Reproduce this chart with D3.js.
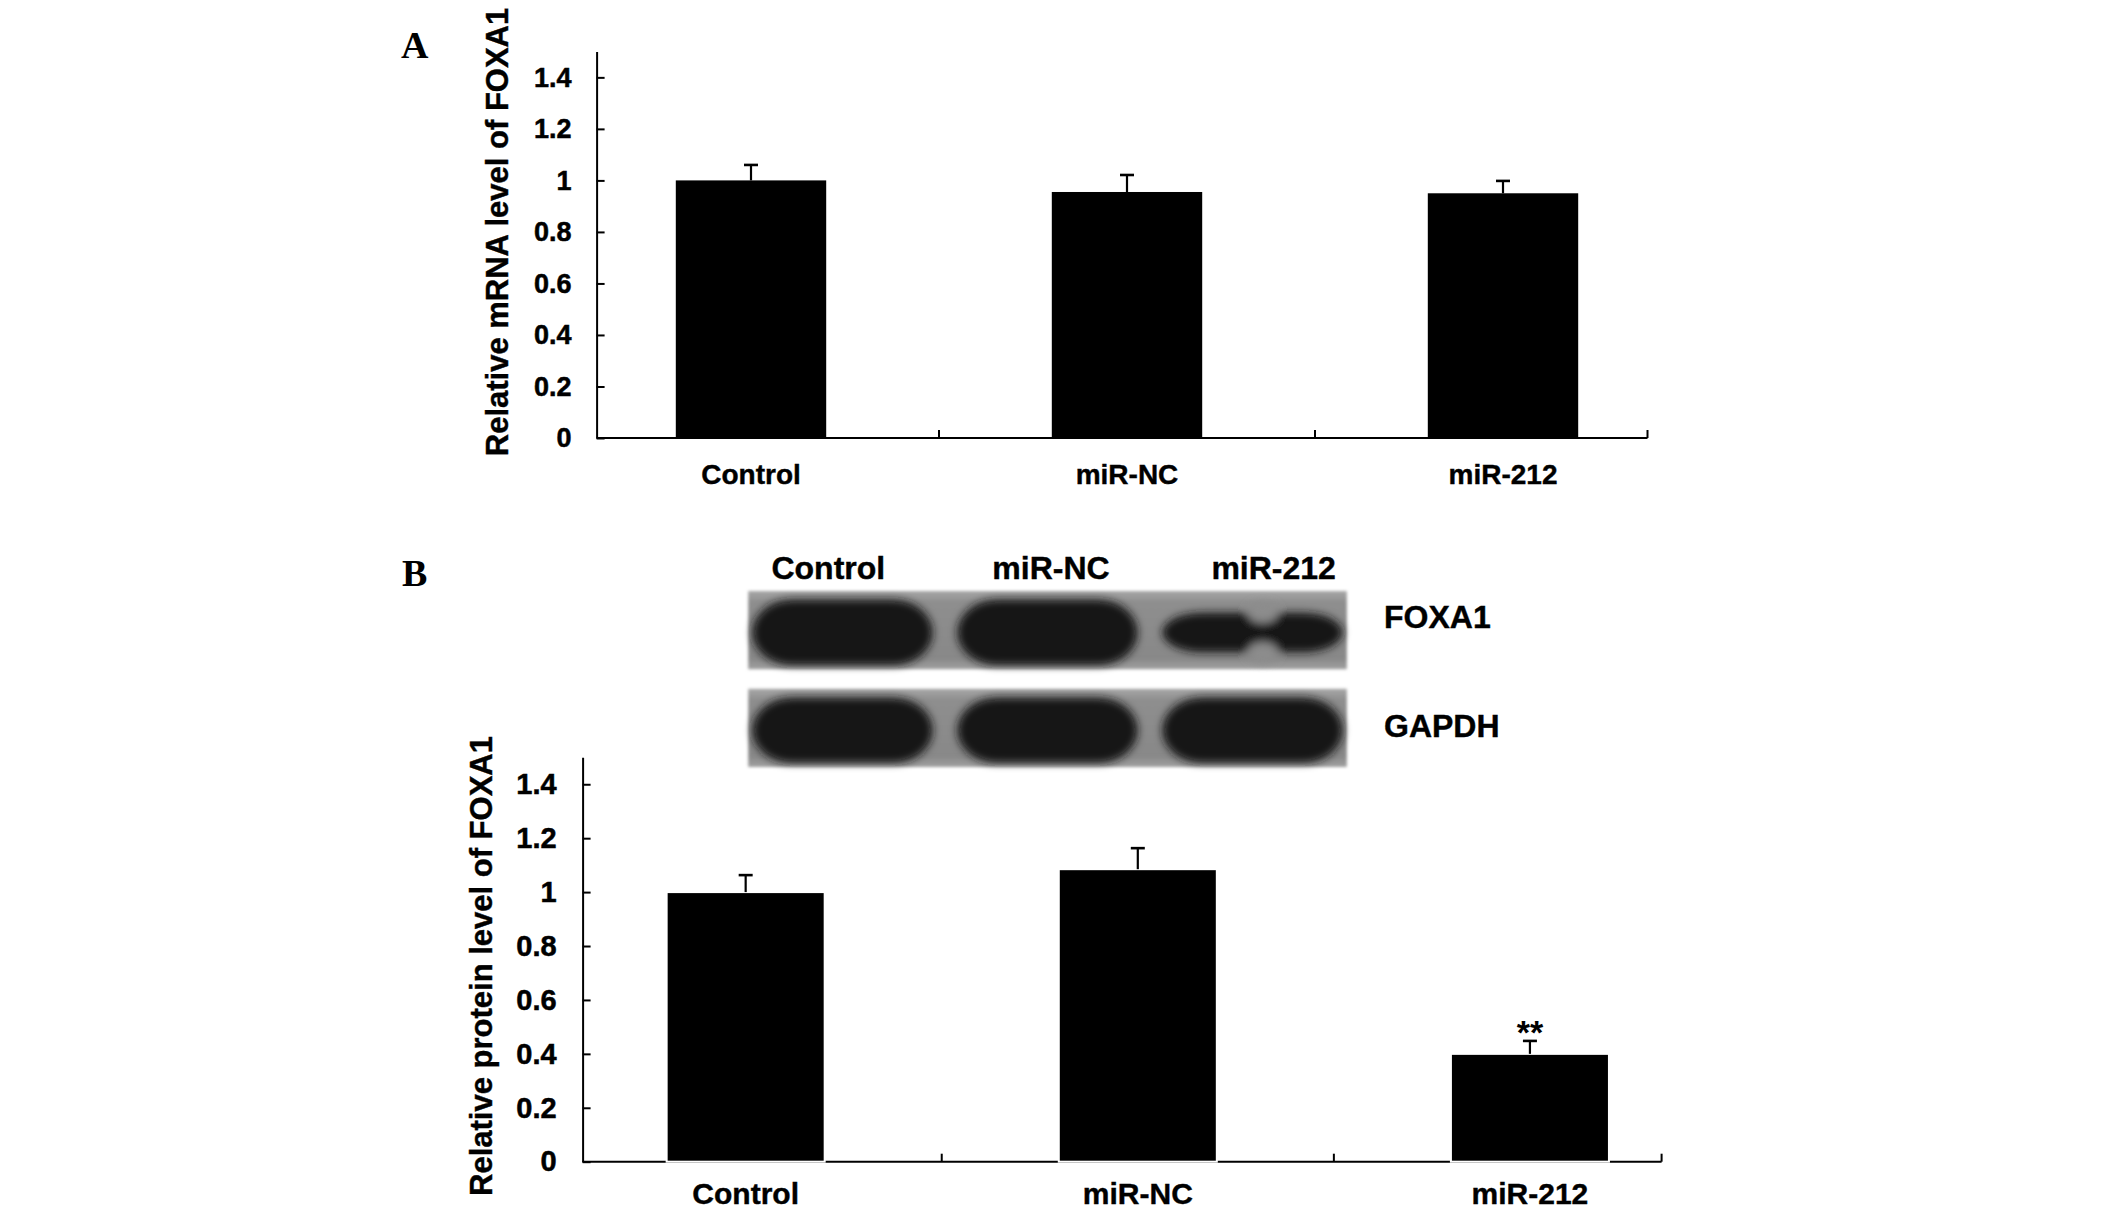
<!DOCTYPE html>
<html><head><meta charset="utf-8">
<script src="https://cdn.jsdelivr.net/npm/d3@7"></script>
<style>
body{margin:0;background:#fff}
svg{display:block}
text{font-family:"Liberation Sans",Arial,Helvetica,sans-serif;font-weight:bold;fill:#000}
</style>
</head><body>
<svg id="chart" width="2126" height="1220"></svg>
<script>
// ---------- data ----------
const categories = ["Control", "miR-NC", "miR-212"];
const mrnaValues = [1.00, 0.955, 0.95];
const mrnaErrors = [0.06, 0.066, 0.048];
const proteinValues = [1.00, 1.085, 0.40];
const proteinErrors = [0.063, 0.078, 0.048];
const significance = ["", "", "**"];
const yTicks = [0, 0.2, 0.4, 0.6, 0.8, 1, 1.2, 1.4];
const yTickLabels = ["0", "0.2", "0.4", "0.6", "0.8", "1", "1.2", "1.4"];
const blotRows = ["FOXA1", "GAPDH"];
const foxa1BandLevels = [1.0, 1.0, 0.6];
const gapdhBandLevels = [1.0, 1.0, 1.0];
const panelLabels = ["A", "B"];
const yTitles = ["Relative mRNA level of FOXA1", "Relative protein level of FOXA1"];

// ---------- setup ----------
const svg = d3.select("#chart");
svg.append("rect").attr("width", 2126).attr("height", 1220).attr("fill", "#fff");
const defs = svg.append("defs");
defs.append("filter").attr("id", "blurBand").attr("x", "-20%").attr("y", "-40%").attr("width", "140%").attr("height", "180%")
  .append("feGaussianBlur").attr("stdDeviation", 4.5);
defs.append("filter").attr("id", "blurEdge").attr("x", "-5%").attr("y", "-10%").attr("width", "110%").attr("height", "120%")
  .append("feGaussianBlur").attr("stdDeviation", 1.8);
const grad = defs.append("linearGradient").attr("id", "blotBg").attr("x1", 0).attr("y1", 0).attr("x2", 0).attr("y2", 1);
grad.append("stop").attr("offset", "0%").attr("stop-color", "#a8a8a8");
grad.append("stop").attr("offset", "14%").attr("stop-color", "#8e8e8e");
grad.append("stop").attr("offset", "86%").attr("stop-color", "#888888");
grad.append("stop").attr("offset", "100%").attr("stop-color", "#a0a0a0");

function drawPanel(cfg) {
  const g = svg.append("g");
  const y = d3.scaleLinear().domain([0, 1.5]).range([cfg.yBottom, cfg.yTop]);
  const x = d3.scaleBand().domain(categories).range(cfg.xRange).padding(0);
  const bw = x.bandwidth();
  const barW = bw * cfg.barFrac;

  // x axis line + ticks (category boundaries and end)
  g.append("line").attr("x1", cfg.axisX).attr("x2", cfg.axisEnd)
    .attr("y1", y(0)).attr("y2", y(0)).attr("stroke", "#000").attr("stroke-width", 2);
  const tickXs = categories.slice(1).map(c => x(c)).concat([cfg.axisEnd]);
  g.selectAll(".xt").data(tickXs).join("line").attr("class", "xt")
    .attr("x1", d => d).attr("x2", d => d).attr("y1", y(0)).attr("y2", y(0) - 8)
    .attr("stroke", "#000").attr("stroke-width", 2);

  // bars
  g.selectAll(".bar").data(cfg.values).join("rect").attr("class", "bar")
    .attr("x", (d, i) => x(categories[i]) + (bw - barW) / 2)
    .attr("width", barW)
    .attr("y", d => y(d))
    .attr("height", d => y(0) - y(d))
    .attr("fill", "#000")
    .attr("stroke", cfg.barStroke || "none").attr("stroke-width", 2);

  // error bars
  const eb = g.selectAll(".eb").data(cfg.values).join("g").attr("class", "eb")
    .attr("transform", (d, i) => `translate(${x(categories[i]) + bw / 2},0)`);
  eb.append("line").attr("x1", 0).attr("x2", 0)
    .attr("y1", d => y(d)).attr("y2", (d, i) => y(d + cfg.errors[i]))
    .attr("stroke", "#000").attr("stroke-width", 2.2);
  eb.append("line").attr("x1", -7).attr("x2", 7)
    .attr("y1", (d, i) => y(d + cfg.errors[i])).attr("y2", (d, i) => y(d + cfg.errors[i]))
    .attr("stroke", "#000").attr("stroke-width", 2.6);
  if (cfg.marks) {
    eb.append("text").attr("text-anchor", "middle").attr("font-size", 34)
      .attr("y", (d, i) => y(d + cfg.errors[i]) + 3)
      .text((d, i) => cfg.marks[i]);
  }

  // y axis
  const yAxis = d3.axisLeft(y).tickValues(yTicks).tickFormat((d, i) => yTickLabels[i])
    .tickSizeInner(-8).tickSizeOuter(0).tickPadding(cfg.tickPad);
  const ya = g.append("g").attr("transform", `translate(${cfg.axisX},0)`).call(yAxis);
  ya.select(".domain").attr("stroke", "#000").attr("stroke-width", 2);
  ya.selectAll(".tick line").attr("stroke", "#000").attr("stroke-width", 2);
  ya.selectAll(".tick text").attr("font-size", cfg.tickFont)
    .attr("font-family", "'Liberation Sans', Arial, sans-serif").attr("font-weight", "bold").attr("fill", "#000")
    .attr("stroke", "#000").attr("stroke-width", 0.5);

  // x labels
  g.selectAll(".xl").data(categories).join("text").attr("class", "xl")
    .attr("x", d => x(d) + bw / 2).attr("y", y(0) + cfg.labelDy)
    .attr("text-anchor", "middle").attr("font-size", cfg.labelFont)
    .attr("stroke", "#000").attr("stroke-width", 0.4).text(d => d);

  // y title
  g.append("text").attr("transform", `translate(${cfg.titleX},${cfg.titleY}) rotate(-90)`)
    .attr("text-anchor", "middle").attr("font-size", 31)
    .attr("stroke", "#000").attr("stroke-width", 0.4).text(cfg.title);

  // panel letter
  g.append("text").attr("x", cfg.letterX).attr("y", cfg.letterY)
    .style("font-family", "'Liberation Serif','Times New Roman',serif")
    .attr("font-size", 38).text(cfg.letter);
}

drawPanel({
  values: mrnaValues, errors: mrnaErrors, marks: null,
  yBottom: 438, yTop: 51.6, xRange: [563, 1691], barFrac: 0.40,
  axisX: 596.6, axisEnd: 1647.5, tickPad: 25, tickFont: 27,
  labelDy: 46, labelFont: 28, title: yTitles[0], titleX: 508, titleY: 232,
  letter: panelLabels[0], letterX: 401, letterY: 58
});

drawPanel({
  values: proteinValues, errors: proteinErrors, marks: significance,
  yBottom: 1161.7, yTop: 757.3, xRange: [549.6, 1726], barFrac: 0.403, barStroke: "#fff",
  axisX: 582.6, axisEnd: 1661.6, tickPad: 26, tickFont: 29,
  labelDy: 42, labelFont: 30, title: yTitles[1], titleX: 492, titleY: 966,
  letter: panelLabels[1], letterX: 402, letterY: 586
});

// ---------- western blot ----------
const lane = d3.scaleBand().domain(categories).range([740, 1355]).padding(0);
const row = d3.scaleBand().domain(blotRows).range([591, 767]).paddingInner(0.2);
const laneLabel = d3.scaleBand().domain(categories).range([717, 1385]).padding(0);
const rowLabel = d3.scalePoint().domain(blotRows).range([628, 737]);
const levels = {FOXA1: foxa1BandLevels, GAPDH: gapdhBandLevels};
const blot = svg.append("g");
const blotLeft = lane.range()[0] + lane.step() * 0.04;
const blotRight = lane.range()[1] - lane.step() * 0.04;

blotRows.forEach(r => {
  const rg = blot.append("g");
  rg.append("rect").attr("x", blotLeft).attr("y", row(r))
    .attr("width", blotRight - blotLeft).attr("height", row.bandwidth())
    .attr("fill", "url(#blotBg)").attr("filter", "url(#blurEdge)");
  const bandG = rg.append("g").attr("filter", "url(#blurBand)");
  levels[r].forEach((lv, i) => {
    const cx = lane(categories[i]) + lane.step() / 2;
    const cy = row(r) + row.bandwidth() * 0.53;
    const w = lane.step() * 0.88;
    const h = row.bandwidth() * 0.84 * lv;
    bandG.append("rect").attr("x", cx - w / 2).attr("y", cy - h / 2)
      .attr("width", w).attr("height", h)
      .attr("rx", Math.min(w / 2, 40)).attr("ry", h / 2)
      .attr("fill", "#151515");
    if (lv < 0.8) {
      // waist between the two lobes of the weak band
      const nx = cx + lane.step() * 0.05;
      [cy - h / 2, cy + h / 2].forEach(ny => {
        bandG.append("ellipse").attr("cx", nx).attr("cy", ny)
          .attr("rx", lane.step() * 0.075).attr("ry", h * 0.26).attr("fill", "#8c8c8c");
      });
    }
  });
  blot.append("text").attr("x", 1384).attr("y", rowLabel(r))
    .attr("font-size", 32).attr("stroke", "#000").attr("stroke-width", 0.4).text(r);
});

blot.selectAll(".ll").data(categories).join("text").attr("class", "ll")
  .attr("x", d => laneLabel(d) + laneLabel.bandwidth() / 2).attr("y", 579)
  .attr("text-anchor", "middle").attr("font-size", 32)
  .attr("stroke", "#000").attr("stroke-width", 0.4).text(d => d);
</script>
</body></html>
